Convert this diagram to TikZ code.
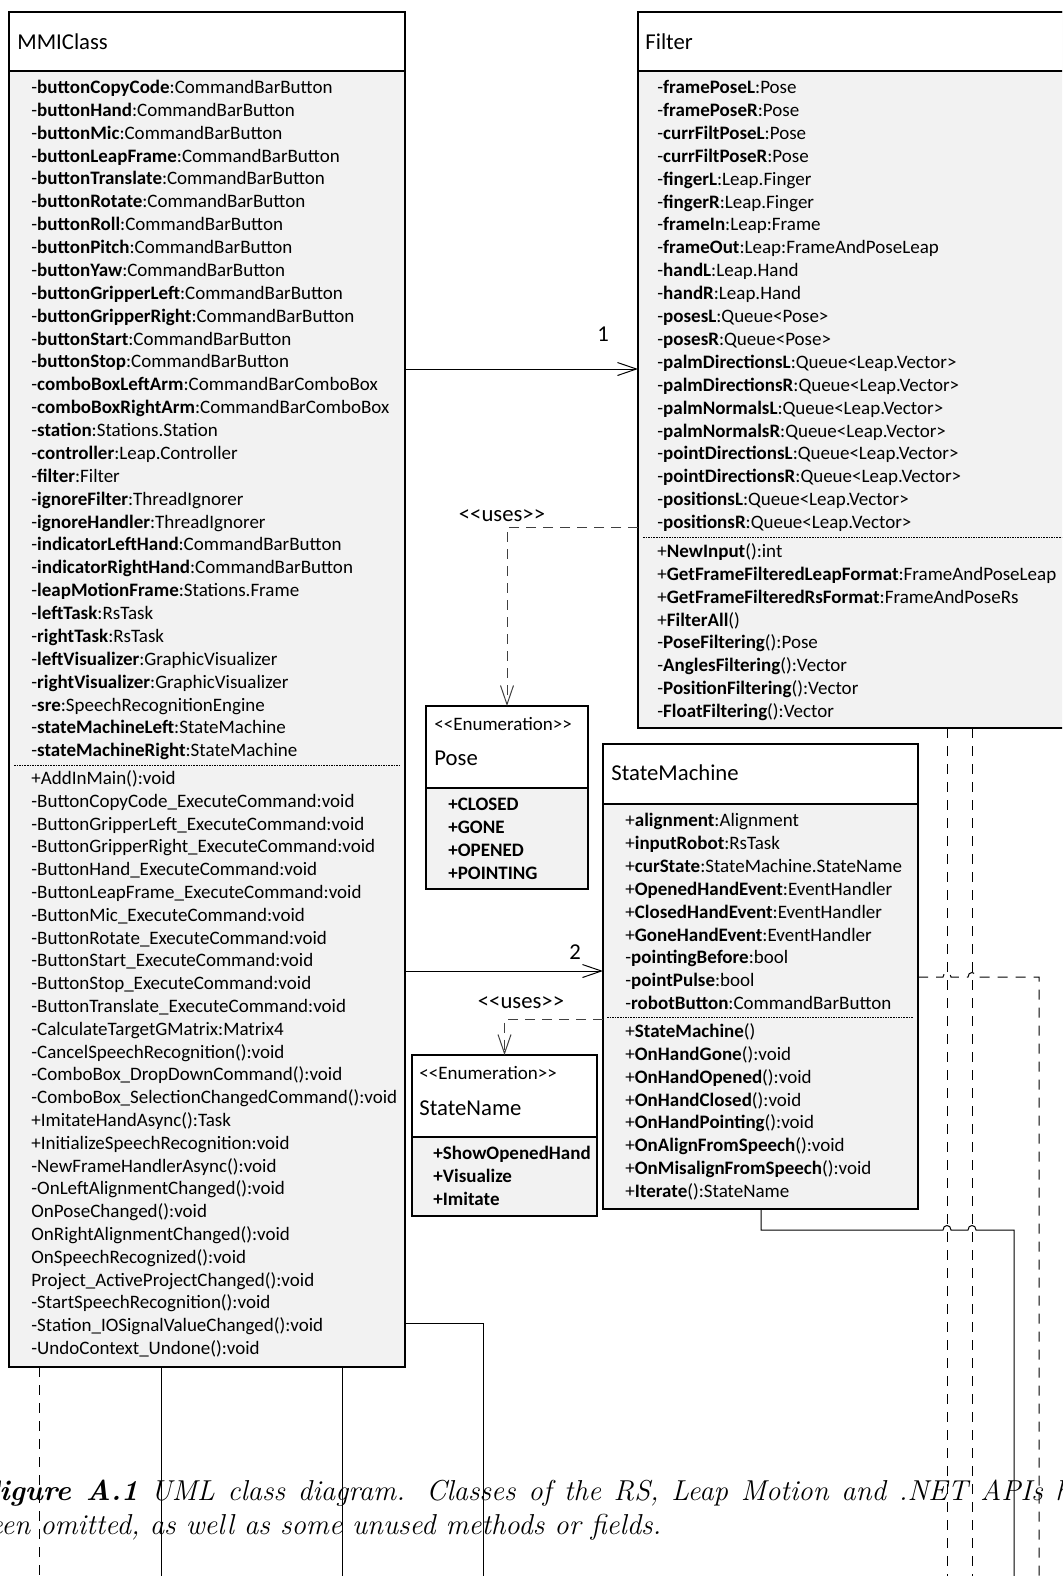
\documentclass[tikz,border=0pt]{standalone}
\usepackage{fontspec}
\newfontfamily\umlfont{Carlito}
\usepackage{tikz}
\usetikzlibrary{arrows.meta}
\definecolor{classgray}{HTML}{F2F2F2}
\definecolor{linkgray}{HTML}{404040}

\begin{document}
\begin{tikzpicture}[x=0.5pt,y=-0.5pt,
  classbox/.style={draw, line width=0.65pt, fill=classgray, inner sep=0pt, outer sep=0pt, anchor=north west},
  headbox/.style={classbox, fill=white},
  member/.style={anchor=base west, inner sep=0pt, yshift=-2.75pt, font=\umlfont\fontsize{9.5}{11}\selectfont},
  classname/.style={anchor=base west, inner sep=0pt, yshift=-3.6pt, font=\umlfont\fontsize{11.35}{13}\selectfont},
  lbl/.style={inner sep=0pt, font=\umlfont\fontsize{11.35}{13}\selectfont},
  sepline/.style={line width=0.4pt, dash pattern=on 0.8pt off 0.5pt},
  assoc/.style={line width=0.5pt, -{Straight Barb[length=9.5pt,width=6.5pt]}},
  uses/.style={line width=0.5pt, linkgray, dash pattern=on 5pt off 3.5pt, -{Straight Barb[length=9.5pt,width=6.5pt]}},
  link/.style={line width=0.5pt},
  depend/.style={line width=0.5pt, dash pattern=on 5pt off 4pt},
  captext/.style={anchor=base west, inner sep=0pt, font=\fontsize{14.4}{17}\selectfont\itshape}]
\useasboundingbox (0,0) rectangle (1062,1576);
\clip (0,0) rectangle (1062,1576);

% class boxes
\node[classbox, minimum width=198pt, minimum height=677.5pt] (mmi) at (9,12) {};
\node[headbox, minimum width=198pt, minimum height=29.5pt] (mmihead) at (9,12) {};
\node[classbox, minimum width=218.5pt, minimum height=358pt] (filter) at (638,12) {};
\node[headbox, minimum width=218.5pt, minimum height=29.5pt] (filterhead) at (638,12) {};
\node[classbox, minimum width=81pt, minimum height=91.5pt] (pose) at (426,706) {};
\node[headbox, minimum width=81pt, minimum height=41pt] (posehead) at (426,706) {};
\node[classbox, minimum width=157.5pt, minimum height=232.5pt] (sm) at (603,744) {};
\node[headbox, minimum width=157.5pt, minimum height=30pt] (smhead) at (603,744) {};
\node[classbox, minimum width=92.5pt, minimum height=80.5pt] (sn) at (412,1055) {};
\node[headbox, minimum width=92.5pt, minimum height=41pt] (snhead) at (412,1055) {};

% class names
\node[classname] (mminame) at (17,42) {MMIClass};
\node[classname] (filtername) at (645,42) {Filter};
\node[member] (posestereo) at (434,725) {<<Enumeration>>};
\node[classname] (posename) at (434,758) {Pose};
\node[classname] (smname) at (611,773) {StateMachine};
\node[member] (snstereo) at (419,1074) {<<Enumeration>>};
\node[classname] (snname) at (419,1108) {StateName};

% MMIClass members
\foreach \p/\n/\t [count=\i from 0] in {-/buttonCopyCode/:CommandBarButton, -/buttonHand/:CommandBarButton,
  -/buttonMic/:CommandBarButton, -/buttonLeapFrame/:CommandBarButton, -/buttonTranslate/:CommandBarButton,
  -/buttonRotate/:CommandBarButton, -/buttonRoll/:CommandBarButton, -/buttonPitch/:CommandBarButton,
  -/buttonYaw/:CommandBarButton, -/buttonGripperLeft/:CommandBarButton, -/buttonGripperRight/:CommandBarButton,
  -/buttonStart/:CommandBarButton, -/buttonStop/:CommandBarButton, -/comboBoxLeftArm/:CommandBarComboBox,
  -/comboBoxRightArm/:CommandBarComboBox, -/station/:Stations.Station, -/controller/:Leap.Controller,
  -/filter/:Filter, -/ignoreFilter/:ThreadIgnorer, -/ignoreHandler/:ThreadIgnorer,
  -/indicatorLeftHand/:CommandBarButton, -/indicatorRightHand/:CommandBarButton,
  -/leapMotionFrame/:Stations.Frame, -/leftTask/:RsTask, -/rightTask/:RsTask,
  -/leftVisualizer/:GraphicVisualizer, -/rightVisualizer/:GraphicVisualizer,
  -/sre/:SpeechRecognitionEngine, -/stateMachineLeft/:StateMachine, -/stateMachineRight/:StateMachine}
  \node[member] (mmiattr\i) at (31,{88+22.87*\i}) {\p\textbf{\n}\t};
\draw[sepline] (14,765) -- (400,765);
\foreach \m [count=\i from 0] in {+AddInMain():void, -ButtonCopyCode\_ExecuteCommand:void,
  -ButtonGripperLeft\_ExecuteCommand:void, -ButtonGripperRight\_ExecuteCommand:void,
  -ButtonHand\_ExecuteCommand:void, -ButtonLeapFrame\_ExecuteCommand:void, -ButtonMic\_ExecuteCommand:void,
  -ButtonRotate\_ExecuteCommand:void, -ButtonStart\_ExecuteCommand:void, -ButtonStop\_ExecuteCommand:void,
  -ButtonTranslate\_ExecuteCommand:void, -CalculateTargetGMatrix:Matrix4, -CancelSpeechRecognition():void,
  -ComboBox\_DropDownCommand():void, -ComboBox\_SelectionChangedCommand():void, +ImitateHandAsync():Task,
  +InitializeSpeechRecognition:void, -NewFrameHandlerAsync():void, -OnLeftAlignmentChanged():void,
  OnPoseChanged():void, OnRightAlignmentChanged():void, OnSpeechRecognized():void,
  Project\_ActiveProjectChanged():void, -StartSpeechRecognition():void,
  -Station\_IOSignalValueChanged():void, -UndoContext\_Undone():void}
  \node[member] (mmiop\i) at (31,{779+22.8*\i}) {\m};

% Filter members
\foreach \p/\n/\t [count=\i from 0] in {-/framePoseL/:Pose, -/framePoseR/:Pose, -/currFiltPoseL/:Pose,
  -/currFiltPoseR/:Pose, -/fingerL/:Leap.Finger, -/fingerR/:Leap.Finger, -/frameIn/:Leap:Frame,
  -/frameOut/:Leap:FrameAndPoseLeap, -/handL/:Leap.Hand, -/handR/:Leap.Hand, -/posesL/:Queue<Pose>,
  -/posesR/:Queue<Pose>, -/palmDirectionsL/:Queue<Leap.Vector>, -/palmDirectionsR/:Queue<Leap.Vector>,
  -/palmNormalsL/:Queue<Leap.Vector>, -/palmNormalsR/:Queue<Leap.Vector>,
  -/pointDirectionsL/:Queue<Leap.Vector>, -/pointDirectionsR/:Queue<Leap.Vector>,
  -/positionsL/:Queue<Leap.Vector>, -/positionsR/:Queue<Leap.Vector>}
  \node[member] (filterattr\i) at (657,{88+22.9*\i}) {\p\textbf{\n}\t};
\draw[sepline] (643,537) -- (1062,537);
\foreach \p/\n/\t [count=\i from 0] in {+/NewInput/():int, +/GetFrameFilteredLeapFormat/:FrameAndPoseLeap,
  +/GetFrameFilteredRsFormat/:FrameAndPoseRs, +/FilterAll/(), -/PoseFiltering/():Pose,
  -/AnglesFiltering/():Vector, -/PositionFiltering/():Vector, -/FloatFiltering/():Vector}
  \node[member] (filterop\i) at (657,{552+22.86*\i}) {\p\textbf{\n}\t};

% StateMachine members
\foreach \p/\n/\t [count=\i from 0] in {+/alignment/:Alignment, +/inputRobot/:RsTask,
  +/curState/:StateMachine.StateName, +/OpenedHandEvent/:EventHandler, +/ClosedHandEvent/:EventHandler,
  +/GoneHandEvent/:EventHandler, -/pointingBefore/:bool, -/pointPulse/:bool, -/robotButton/:CommandBarButton}
  \node[member] (smattr\i) at (625,{821+22.9*\i}) {\p\textbf{\n}\t};
\draw[sepline] (607,1017) -- (913,1017);
\foreach \p/\n/\t [count=\i from 0] in {+/StateMachine/(), +/OnHandGone/():void, +/OnHandOpened/():void,
  +/OnHandClosed/():void, +/OnHandPointing/():void, +/OnAlignFromSpeech/():void,
  +/OnMisalignFromSpeech/():void, +/Iterate/():StateName}
  \node[member] (smop\i) at (625,{1032+22.86*\i}) {\p\textbf{\n}\t};

% enumeration literals
\foreach \v [count=\i from 0] in {CLOSED, GONE, OPENED, POINTING}
  \node[member] (poseval\i) at (448,{805+23*\i}) {\textbf{+\v}};
\foreach \v [count=\i from 0] in {ShowOpenedHand, Visualize, Imitate}
  \node[member] (snval\i) at (433,{1154+23*\i}) {\textbf{+\v}};

% associations
\draw[assoc] (mmi.east |- 0,369) -- (filter.west |- 0,369);
\node[lbl] (mult1) at (603,334) {1};
\draw[assoc] (mmi.east |- 0,971) -- (sm.west |- 0,971);
\node[lbl] (mult2) at (575,952) {2};

% dependencies
\draw[uses] (filter.west |- 0,527) -| (pose.north);
\node[lbl] (uses1) at (502,516) {<<uses>>};
\draw[uses] (sm.west |- 0,1019) -| (sn.north);
\node[lbl] (uses2) at (521,1003) {<<uses>>};

% links leaving the page
\coordinate (out1) at (39,1576);
\coordinate (out2) at (161,1576);
\coordinate (out3) at (342,1576);
\coordinate (out4) at (483,1576);
\coordinate (out5) at (947,1576);
\coordinate (out6) at (972,1576);
\coordinate (out7) at (1014,1576);
\coordinate (out8) at (1039,1576);
\draw[depend] (mmi.south -| out1) -- (out1);
\draw[link] (mmi.south -| out2) -- (out2);
\draw[link] (mmi.south -| out3) -- (out3);
\draw[link] (mmi.east |- 0,1323) -| (out4);
\draw[depend] (filter.south -| out5) -- (out5);
\draw[depend] (filter.south -| out6) -- (out6);
\draw[link] (sm.south -| 761,0) -- (761,1230) -- (943,1230) .. controls (943,1224) and (951,1224) .. (951,1230)
  -- (968,1230) .. controls (968,1224) and (976,1224) .. (976,1230) -- (1014,1230) -- (out7);
\draw[depend] (sm.east |- 0,977) -- (943,977) .. controls (943,971) and (951,971) .. (951,977)
  -- (968,977) .. controls (968,971) and (976,971) .. (976,977) -- (1039,977) -- (out8);

% caption (cut at both sides, first line justified)
\node[captext] (cap1) at (-22,1500) {\makebox[566pt][s]{\textbf{Figure A.1} UML class diagram. Classes of the RS, Leap Motion and .NET APIs have}};
\node[captext] (cap2) at (-22,1534) {been omitted, as well as some unused methods or fields.};
\end{tikzpicture}
\end{document}
